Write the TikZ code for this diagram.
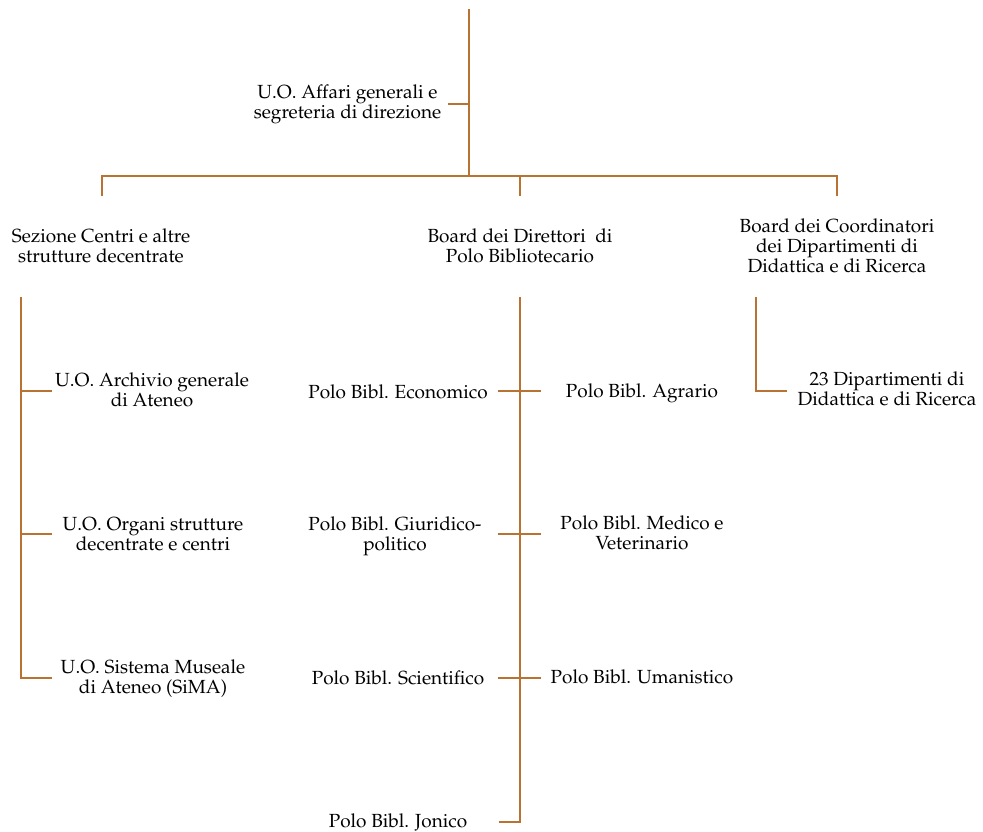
\documentclass[tikz,border=0pt]{standalone}
\usepackage[T1]{fontenc}
\renewcommand{\rmdefault}{ppl}
\definecolor{copperline}{RGB}{184,115,51}
\begin{document}
\begin{tikzpicture}[x=1pt,y=-1pt,
  lbl/.style={inner sep=0pt,align=center,text=black,font=\fontsize{19}{20}\selectfont},
  conn/.style={draw=copperline,line width=2.1pt,line cap=rect}]
\useasboundingbox (0,0) rectangle (983,831);
% coordinates of the tree
\coordinate (top) at (469,10);
\coordinate (topj) at (469,176);
\coordinate (affj) at (469,104);
\coordinate (affe) at (449,104);
\coordinate (barL) at (102,176);
\coordinate (barM) at (520,176);
\coordinate (barR) at (837,176);
\coordinate (dropL) at (102,195);
\coordinate (dropM) at (520,195);
\coordinate (dropR) at (837,195);
% left spine
\coordinate (ls0) at (21,298);
\coordinate (ls1) at (21,391);
\coordinate (ls2) at (21,534);
\coordinate (ls3) at (21,678);
\coordinate (le1) at (51,391);
\coordinate (le2) at (51,534);
\coordinate (le3) at (51,678);
% center spine
\coordinate (cs0) at (520,298);
\coordinate (cs1) at (520,391);
\coordinate (cs2) at (520,534);
\coordinate (cs3) at (520,678);
\coordinate (cs4) at (520,822);
\coordinate (cl1) at (499,391);
\coordinate (cr1) at (540,391);
\coordinate (cl2) at (499,534);
\coordinate (cr2) at (540,534);
\coordinate (cl3) at (499,678);
\coordinate (cr3) at (540,678);
\coordinate (cl4) at (500,822);
% right spine
\coordinate (rs0) at (756,298);
\coordinate (rs1) at (756,391);
\coordinate (re1) at (786,391);

% nodes
\node[lbl] (aff) at (347.5,104) {U.O. Affari generali e\\segreteria di direzione};
\node[lbl] (sez) at (101,245.5) {Sezione Centri e altre\\strutture decentrate};
\node[lbl] (bdir) at (520,245.5) {Board dei Direttori\ \ di\\Polo Bibliotecario};
\node[lbl] (bcoord) at (837,245.5) {Board dei Coordinatori\\dei Dipartimenti di\\Didattica e di Ricerca};
\node[lbl] (arch) at (152,390) {U.O. Archivio generale\\di Ateneo};
\node[lbl] (org) at (153,534) {U.O. Organi strutture\\decentrate e centri};
\node[lbl] (sima) at (153,678.5) {U.O. Sistema Museale\\di Ateneo (SiMA)};
\node[lbl,anchor=base] (eco) at (398,398) {Polo Bibl. Economico};
\node[lbl,anchor=base] (agr) at (642,397) {Polo Bibl. Agrario};
\node[lbl] (giu) at (395,536) {Polo Bibl. Giuridico-\\politico};
\node[lbl] (med) at (642,532.5) {Polo Bibl. Medico e\\Veterinario};
\node[lbl,anchor=base] (sci) at (398,684) {Polo Bibl. Scientifico};
\node[lbl,anchor=base] (uma) at (642,683) {Polo Bibl. Umanistico};
\node[lbl,anchor=base] (jon) at (398,827) {Polo Bibl. Jonico};
\node[lbl] (dip) at (887,389) {23 Dipartimenti di\\Didattica e di Ricerca};

% connectors
\draw[conn] (top) -- (topj);
\draw[conn] (affe) -- (affj);
\draw[conn] (dropL) -- (barL) -- (barR) -- (dropR);
\draw[conn] (barM) -- (dropM);
\draw[conn] (ls0) -- (ls3) -- (le3);
\draw[conn] (ls1) -- (le1);
\draw[conn] (ls2) -- (le2);
\draw[conn] (cs0) -- (cs4) -- (cl4);
\draw[conn] (cl1) -- (cr1);
\draw[conn] (cl2) -- (cr2);
\draw[conn] (cl3) -- (cr3);
\draw[conn] (rs0) -- (rs1) -- (re1);
\end{tikzpicture}
\end{document}
